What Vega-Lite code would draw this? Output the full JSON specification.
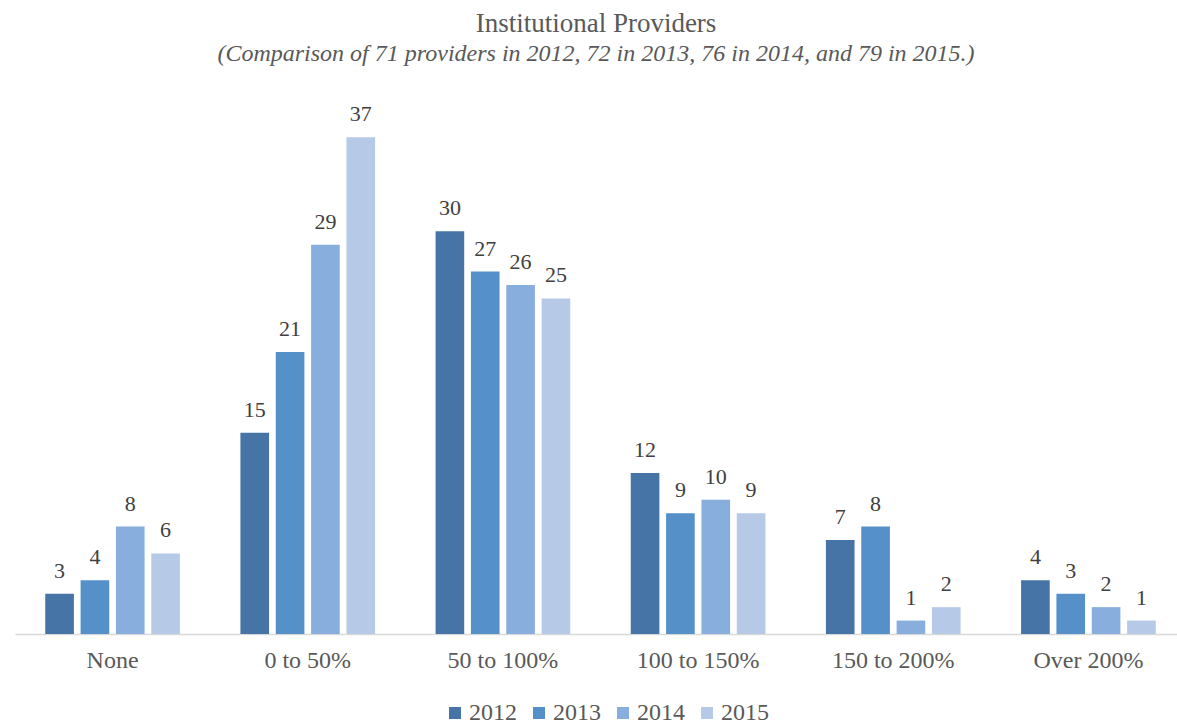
{
  "$schema": "https://vega.github.io/schema/vega-lite/v6.json",
  "width": 1162,
  "height": 537,
  "autosize": {"type": "none"},
  "padding": {"left": 15, "top": 97, "right": 0, "bottom": 91},
  "background": "white",
  "title": {
    "text": "Institutional Providers",
    "subtitle": "(Comparison of 71 providers in 2012, 72 in 2013, 76 in 2014, and 79 in 2015.)",
    "anchor": "middle",
    "font": "Times New Roman, Liberation Serif, serif",
    "fontSize": 27,
    "fontWeight": "normal",
    "color": "#595959",
    "subtitleFont": "Times New Roman, Liberation Serif, serif",
    "subtitleFontSize": 24,
    "subtitleFontStyle": "italic",
    "subtitleColor": "#595959",
    "offset": 30,
    "subtitlePadding": 4
  },
  "config": {"view": {"stroke": null}},
  "data": {
    "values": [
      {"category": "None", "year": "2012", "value": 3},
      {"category": "None", "year": "2013", "value": 4},
      {"category": "None", "year": "2014", "value": 8},
      {"category": "None", "year": "2015", "value": 6},
      {"category": "0 to 50%", "year": "2012", "value": 15},
      {"category": "0 to 50%", "year": "2013", "value": 21},
      {"category": "0 to 50%", "year": "2014", "value": 29},
      {"category": "0 to 50%", "year": "2015", "value": 37},
      {"category": "50 to 100%", "year": "2012", "value": 30},
      {"category": "50 to 100%", "year": "2013", "value": 27},
      {"category": "50 to 100%", "year": "2014", "value": 26},
      {"category": "50 to 100%", "year": "2015", "value": 25},
      {"category": "100 to 150%", "year": "2012", "value": 12},
      {"category": "100 to 150%", "year": "2013", "value": 9},
      {"category": "100 to 150%", "year": "2014", "value": 10},
      {"category": "100 to 150%", "year": "2015", "value": 9},
      {"category": "150 to 200%", "year": "2012", "value": 7},
      {"category": "150 to 200%", "year": "2013", "value": 8},
      {"category": "150 to 200%", "year": "2014", "value": 1},
      {"category": "150 to 200%", "year": "2015", "value": 2},
      {"category": "Over 200%", "year": "2012", "value": 4},
      {"category": "Over 200%", "year": "2013", "value": 3},
      {"category": "Over 200%", "year": "2014", "value": 2},
      {"category": "Over 200%", "year": "2015", "value": 1}
    ]
  },
  "encoding": {
    "x": {
      "field": "category",
      "type": "nominal",
      "sort": ["None", "0 to 50%", "50 to 100%", "100 to 150%", "150 to 200%", "Over 200%"],
      "scale": {"range": [0, 1171], "paddingInner": 0.31, "paddingOuter": 0.155},
      "axis": {
        "title": null,
        "labelAngle": 0,
        "labelFont": "Times New Roman, Liberation Serif, serif",
        "labelFontSize": 24,
        "labelColor": "#595959",
        "ticks": false,
        "domainColor": "#d9d9d9",
        "domainWidth": 1.5,
        "labelPadding": 14
      }
    },
    "xOffset": {
      "field": "year",
      "type": "nominal",
      "scale": {"paddingInner": 0.19, "paddingOuter": 0}
    },
    "y": {
      "field": "value",
      "type": "quantitative",
      "scale": {"domain": [0, 40], "nice": false},
      "axis": null
    }
  },
  "layer": [
    {
      "mark": {"type": "bar"},
      "encoding": {
        "color": {
          "field": "year",
          "type": "nominal",
          "scale": {
            "domain": ["2012", "2013", "2014", "2015"],
            "range": ["#4674a6", "#5590c8", "#87aedd", "#b6cae7"]
          },
          "legend": {
            "orient": "none",
            "legendX": 428,
            "legendY": 604,
            "title": null,
            "direction": "horizontal",
            "symbolType": "square",
            "symbolSize": 144,
            "symbolStrokeWidth": 0,
            "labelFont": "Times New Roman, Liberation Serif, serif",
            "labelFontSize": 24,
            "labelColor": "#595959",
            "labelOffset": 2,
            "columnPadding": 10
          }
        }
      }
    },
    {
      "mark": {
        "type": "text",
        "baseline": "alphabetic",
        "dy": -16,
        "font": "Times New Roman, Liberation Serif, serif",
        "fontSize": 22,
        "color": "#404040"
      },
      "encoding": {
        "text": {"field": "value", "type": "quantitative"}
      }
    }
  ]
}
